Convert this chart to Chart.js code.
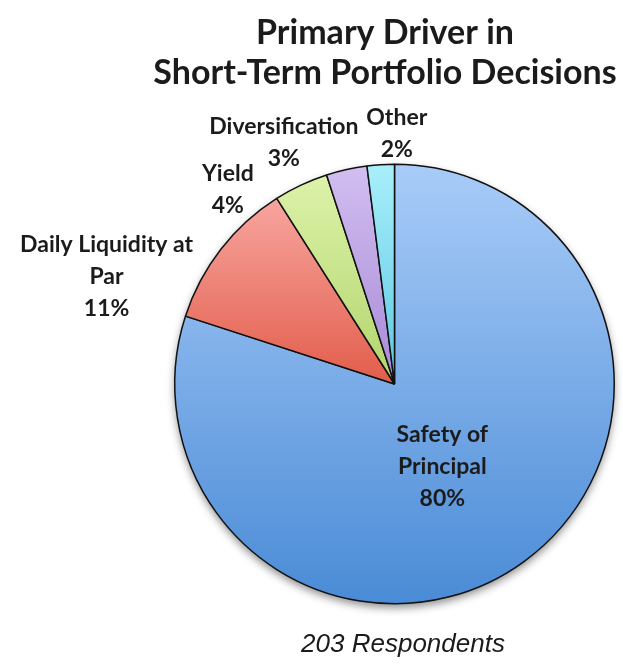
<!DOCTYPE html>
<html>
<head>
<meta charset="utf-8">
<script src="https://cdn.jsdelivr.net/npm/chart.js@4/dist/chart.umd.min.js"></script>
<style>
  html, body { margin: 0; padding: 0; background: #fff; }
  #wrap { width: 623px; height: 665px; position: relative; }
</style>
</head>
<body>
<div id="wrap"><canvas id="pieChart"></canvas></div>
<script>
// Chart data
const categories = ['Safety of Principal', 'Daily Liquidity at Par', 'Yield', 'Diversification', 'Other'];
const shares = [80, 11, 4, 3, 2];
// how each category label is broken into lines
const labelLines = [['Safety of', 'Principal'], ['Daily Liquidity at', 'Par'], ['Yield'], ['Diversification'], ['Other']];
const titleLines = ['Primary Driver in', 'Short-Term Portfolio Decisions'];
const footNote = '203 Respondents';

// Gradient fills (stop position over the pie height, colour)
const sliceGradients = [
    [[0, '#a9ccf8'], [1, '#4a8bd6']],
    [[0.04, '#faaca7'], [0.5, '#e25d4b']],
    [[0.02, '#ddf3aa'], [0.5, '#b2d46c']],
    [[0.0, '#d3bff1'], [0.5, '#a789d6']],
    [[0.0, '#a9effb'], [0.5, '#5bc8e2']]
];

// Label placement: radial distance (fraction of radius) and a nudge in px
const labelPlace = [
    { k: 0.44, dx: -9, dy: 4 },
    { k: 1.14, dx: -90, dy: 46 },
    { k: 1.14, dx: -60, dy: 32 },
    { k: 1.14, dx: -56, dy: 3 },
    { k: 1.14, dx: 18, dy: 0 }
];

const textColor = '#1b1b1b';

function sliceFill(ctx) {
    const chart = ctx.chart;
    const area = chart.chartArea;
    const stops = sliceGradients[ctx.dataIndex];
    if (!area) return stops[stops.length - 1][1];
    const g = chart.ctx.createLinearGradient(0, area.top, 0, area.bottom);
    stops.forEach(s => g.addColorStop(s[0], s[1]));
    return g;
}

// Soft shadow under the whole pie
const pieShadow = {
    id: 'pieShadow',
    beforeDatasetsDraw(chart) {
        const arc = chart.getDatasetMeta(0).data[0];
        if (!arc) return;
        const c = chart.ctx;
        c.save();
        c.shadowColor = 'rgba(0,0,0,0.45)';
        c.shadowBlur = 9;
        c.shadowOffsetY = 4;
        c.fillStyle = '#ffffff';
        c.beginPath();
        c.arc(arc.x, arc.y, arc.outerRadius, 0, Math.PI * 2);
        c.fill();
        c.restore();
    }
};

// Title, slice labels and footnote
const chartText = {
    id: 'chartText',
    afterDraw(chart) {
        const c = chart.ctx;
        c.save();
        c.fillStyle = textColor;
        c.textAlign = 'center';
        c.textBaseline = 'middle';

        c.font = 'bold 34px Lato';
        titleLines.forEach((t, i) => c.fillText(t, 385, 33 + i * 40));

        c.font = 'bold 23px Lato';
        chart.getDatasetMeta(0).data.forEach((arc, i) => {
            const mid = (arc.startAngle + arc.endAngle) / 2;
            const p = labelPlace[i];
            const dist = arc.outerRadius * p.k;
            const cx = arc.x + Math.cos(mid) * dist + p.dx;
            const cy = arc.y + Math.sin(mid) * dist + p.dy;
            const lines = labelLines[i].concat([shares[i] + '%']);
            const top = cy - (lines.length - 1) * 32 / 2;
            lines.forEach((t, j) => c.fillText(t, cx, top + j * 32));
        });

        c.font = 'italic 26px "Liberation Sans"';
        c.fillText(footNote, 403, 645);
        c.restore();
    }
};

const pieChartCtx = document.getElementById('pieChart').getContext('2d');
new Chart(pieChartCtx, {
    type: 'pie',
    data: {
        labels: categories,
        datasets: [{
            data: shares,
            backgroundColor: sliceFill,
            borderColor: '#111111',
            borderWidth: 1.5
        }]
    },
    options: {
        responsive: true,
        maintainAspectRatio: false,
        animation: false,
        layout: {
            padding: { left: 174, right: 8, top: 163, bottom: 60 }
        },
        plugins: {
            legend: { display: false },
            tooltip: { enabled: false }
        }
    },
    plugins: [pieShadow, chartText]
});
</script>
</body>
</html>
